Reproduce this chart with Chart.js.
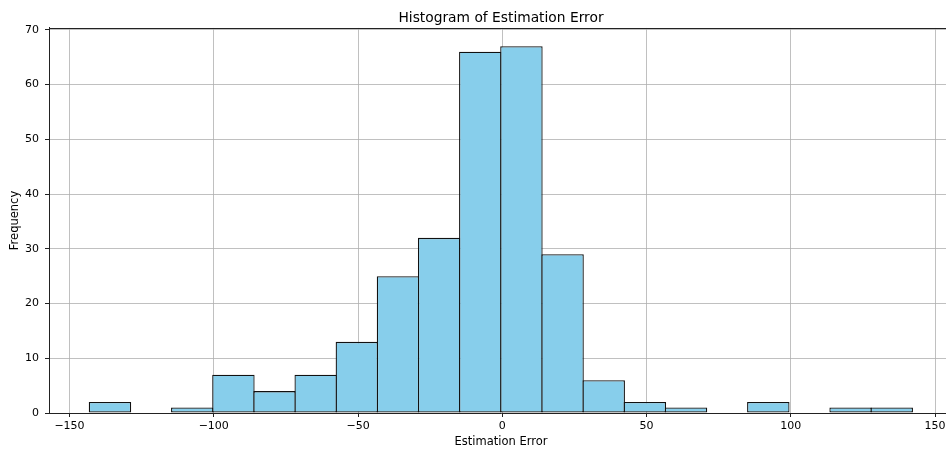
<!DOCTYPE html>
<html><head><meta charset="utf-8">
<script src="https://cdn.jsdelivr.net/npm/chart.js@4.4.1/dist/chart.umd.min.js"></script>
<style>html,body{margin:0;padding:0;background:#fff;overflow:hidden}#wrap{width:946px;height:451px;overflow:hidden;position:relative}canvas{position:absolute;left:0;top:0}</style>
</head><body><div id="wrap"><canvas id="c" width="960" height="451"></canvas></div>
<script>
const binEdges = [-143.10, -128.84, -114.58, -100.32, -86.06, -71.80, -57.54, -43.28, -29.02, -14.76, -0.50, 13.76, 28.02, 42.28, 56.54, 70.80, 85.06, 99.32, 113.58, 127.84, 142.10];
const counts = [2, 0, 1, 7, 4, 7, 13, 25, 32, 66, 67, 29, 6, 2, 1, 0, 2, 0, 1, 1];
const xTicks = [-150, -100, -50, 0, 50, 100, 150];
const yTicks = [0, 10, 20, 30, 40, 50, 60, 70];
const titleText = 'Histogram of Estimation Error';
const xLabel = 'Estimation Error';
const yLabel = 'Frequency';

const FONT = 'DejaVu Sans';
const fmt = v => (v < 0 ? '\u2212' + Math.abs(v) : String(v));
const points = counts.map((c, i) => ({ x: (binEdges[i] + binEdges[i + 1]) / 2, y: c }));

const topSpine = {
  id: 'topSpine',
  afterDraw(chart) {
    const { ctx, chartArea } = chart;
    ctx.save();
    ctx.strokeStyle = '#222';
    ctx.lineWidth = 1;
    ctx.beginPath();
    ctx.moveTo(chartArea.left, Math.round(chartArea.top) + 0.5);
    ctx.lineTo(chartArea.right, Math.round(chartArea.top) + 0.5);
    ctx.stroke();
    ctx.restore();
  }
};

new Chart(document.getElementById('c'), {
  type: 'bar',
  data: {
    datasets: [{
      data: points,
      backgroundColor: '#87CEEB',
      borderColor: '#111',
      borderWidth: 1.3,
      borderSkipped: false,
      barPercentage: 1.0316,
      categoryPercentage: 1,
      grouped: false
    }]
  },
  options: {
    responsive: false,
    animation: false,
    devicePixelRatio: 1,
    layout: { padding: { left: 0, right: 7, top: 0, bottom: 0 } },
    plugins: {
      legend: { display: false },
      tooltip: { enabled: false },
      title: {
        display: true, text: titleText, fullSize: false, color: '#000',
        font: { family: FONT, size: 13.8, weight: 'normal', lineHeight: 1.2 },
        padding: { top: 9.7, bottom: 1.7 }
      }
    },
    scales: {
      x: {
        type: 'linear', min: -157.1, max: 156.2, offset: false, z: 1,
        afterBuildTicks: s => { s.ticks = xTicks.map(v => ({ value: v })); },
        afterFit: s => { s.height = 38; },
        grid: { offset: false, color: '#b0b0b0', lineWidth: 0.8, tickColor: '#222', tickLength: 4, tickWidth: 1 },
        border: { color: '#222', width: 1 },
        ticks: { color: '#000', font: { family: FONT, size: 11 }, padding: 3, maxRotation: 0, autoSkip: false, callback: v => fmt(v) },
        title: { display: true, text: xLabel, color: '#000', font: { family: FONT, size: 11.5, lineHeight: 1.2 }, padding: { top: 0, bottom: 2.1 } }
      },
      y: {
        type: 'linear', min: 0, max: 70.35, z: 1,
        afterBuildTicks: s => { s.ticks = yTicks.map(v => ({ value: v })); },
        afterFit: s => { s.width = 49; },
        grid: { color: '#b0b0b0', lineWidth: 0.8, tickColor: '#222', tickLength: 4, tickWidth: 1 },
        border: { color: '#222', width: 1 },
        ticks: { color: '#000', font: { family: FONT, size: 11 }, padding: 6, autoSkip: false, callback: v => fmt(v) },
        title: { display: true, text: yLabel, color: '#000', font: { family: FONT, size: 11.5, lineHeight: 1.2 }, padding: { top: 8.1, bottom: 0 } }
      }
    }
  },
  plugins: [topSpine]
});
</script>
</body></html>
